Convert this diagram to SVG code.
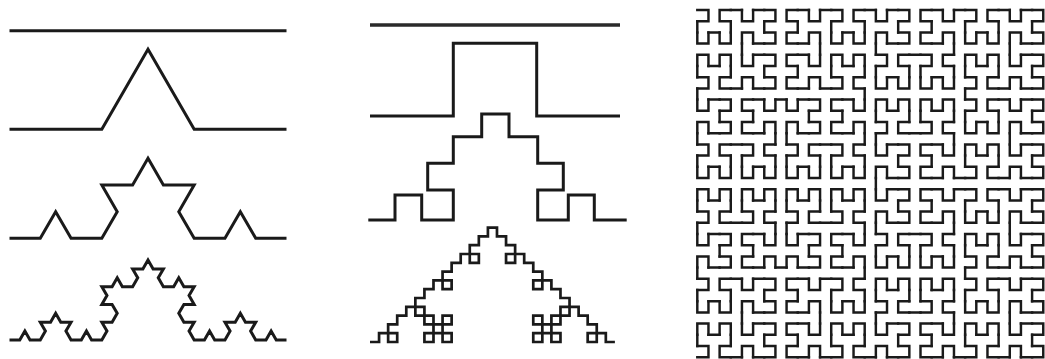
<svg xmlns="http://www.w3.org/2000/svg" width="1045" height="359" viewBox="0 0 1045 359">
<style>
.c{fill:none;stroke:#1a1a1a;stroke-width:3;stroke-linejoin:miter;stroke-linecap:butt}
.t{stroke-width:2.7}
.w{stroke-width:3.4;stroke:#2a2a2a}
.hil{fill:none;stroke:#1a1a1a;stroke-width:0.22;stroke-linecap:square;stroke-linejoin:miter}
</style>
<defs>
<path id="h1" d="M0 1H1V0H0"/>
<g id="h2"><use href="#h1" transform="matrix(0 -1 -1 0 1 3)"/><use href="#h1" transform="translate(2 2)"/><use href="#h1" transform="translate(2 0)"/><use href="#h1" transform="matrix(0 1 1 0 0 0)"/><path d="M1 3H2M2 2V1M2 0H1"/></g>
<g id="h3"><use href="#h2" transform="matrix(0 -1 -1 0 3 7)"/><use href="#h2" transform="translate(4 4)"/><use href="#h2" transform="translate(4 0)"/><use href="#h2" transform="matrix(0 1 1 0 0 0)"/><path d="M3 7H4M4 4V3M4 0H3"/></g>
<g id="h4"><use href="#h3" transform="matrix(0 -1 -1 0 7 15)"/><use href="#h3" transform="translate(8 8)"/><use href="#h3" transform="translate(8 0)"/><use href="#h3" transform="matrix(0 1 1 0 0 0)"/><path d="M7 15H8M8 8V7M8 0H7"/></g>
<g id="h5"><use href="#h4" transform="matrix(0 -1 -1 0 15 31)"/><use href="#h4" transform="translate(16 16)"/><use href="#h4" transform="translate(16 0)"/><use href="#h4" transform="matrix(0 1 1 0 0 0)"/><path d="M15 31H16M16 16V15M16 0H15"/></g>
</defs>
<g id="koch" class="c">
<path d="M9.5 30.7H286.5"/>
<path d="M9.5 129.3H101.83L148 49.34L194.17 129.3H286.5"/>
<path d="M9.5 238.3H40.28L55.67 211.65L71.06 238.3H101.83L117.22 211.65L101.83 184.99H132.61L148 158.34L163.39 184.99H194.17L178.78 211.65L194.17 238.3H224.94L240.33 211.65L255.72 238.3H286.5"/>
<path d="M9.5 340h10.259l5.13-8.885l5.13 8.885h10.259l5.13-8.885l-5.13-8.885h10.259l5.13-8.885l5.13 8.885h10.259l-5.13 8.885l5.13 8.885h10.259l5.13-8.885l5.13 8.885h10.259l5.13-8.885l-5.13-8.885h10.259l5.13-8.885l-5.13-8.885h-10.259l5.13-8.885l-5.13-8.885h10.259l5.13-8.885l5.13 8.885h10.259l5.13-8.885l-5.13-8.885h10.259l5.13-8.885l5.13 8.885h10.259l-5.13 8.885l5.13 8.885h10.259l5.13-8.885l5.13 8.885h10.259l-5.13 8.885l5.13 8.885h-10.259l-5.13 8.885l5.13 8.885h10.259l-5.13 8.885l5.13 8.885h10.259l5.13-8.885l5.13 8.885h10.259l5.13-8.885l-5.13-8.885h10.259l5.13-8.885l5.13 8.885h10.259l-5.13 8.885l5.13 8.885h10.259l5.13-8.885l5.13 8.885h10.259"/>
</g>
<g id="quadkoch" class="c">
<path class="w" d="M370 25H620"/>
<path d="M370 116H453.3V43.3H536.7V116H620"/>
<path d="M368.3 220H395V195H421.7V220H453.3V190H427.7V163.3H453.3V136.7H481.7V114H509V136.7H537.7V163.3H563.3V190H537.7V220H568.3V195H594.3V220H626.7"/>
<path class="t" d="M370 342
h9.07 v-8.8 h9.07 v8.8 h9.07
v-8.8 h-9.07 v-8.8 h9.07 v-8.8
h9.07 v-8.8 h9.07 v8.8 h9.07
v8.8 h9.07 v8.8 h-9.07 v8.8
h9.07 v-8.8 h9.07 v8.8 h9.07
v-8.8 h-9.07 v-8.8 h9.07 v-8.8
h-9.07 v8.8 h-9.07 v-8.8 h-9.07
v-8.8 h-9.07 v-8.8 h9.07 v-8.8
h9.07 v-8.8 h9.07 v8.8 h9.07
v-8.8 h-9.07 v-8.8 h9.07 v-8.8
h9.07 v-8.8 h9.07 v8.8 h9.07
v-8.8 h-9.07 v-8.8 h9.07 v-8.8
h9.07 v-8.8 h9.07 v8.8 h9.07
v8.8 h9.07 v8.8 h-9.07 v8.8
h9.07 v-8.8 h9.07 v8.8 h9.07
v8.8 h9.07 v8.8 h-9.07 v8.8
h9.07 v-8.8 h9.07 v8.8 h9.07
v8.8 h9.07 v8.8 h-9.07 v8.8
h-9.07 v8.8 h-9.07 v-8.8 h-9.07
v8.8 h9.07 v8.8 h-9.07 v8.8
h9.07 v-8.8 h9.07 v8.8 h9.07
v-8.8 h-9.07 v-8.8 h9.07 v-8.8
h9.07 v-8.8 h9.07 v8.8 h9.07
v8.8 h9.07 v8.8 h-9.07 v8.8
h9.07 v-8.8 h9.07 v8.8 h9.07"/>
</g>
<g id="hilbert" class="hil" transform="translate(697.3 10) scale(11.16 11.2)"><use href="#h5"/></g>
</svg>
